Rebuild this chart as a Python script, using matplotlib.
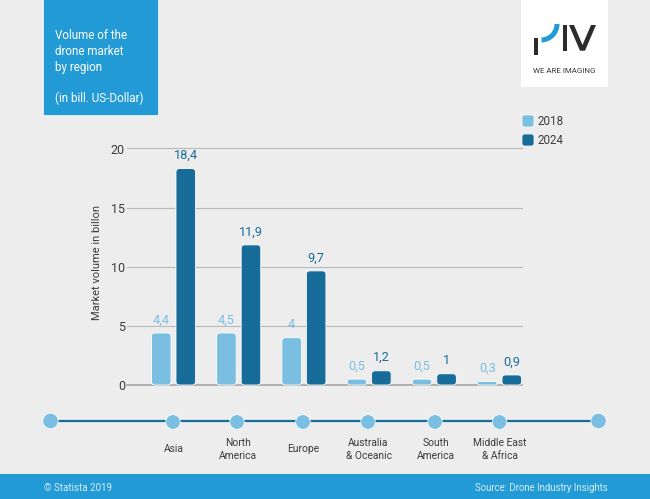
import matplotlib
matplotlib.use('Agg')
import matplotlib.pyplot as plt
from matplotlib.patches import FancyBboxPatch, Rectangle, Circle, Wedge, Polygon

regions = ['Asia', 'North\nAmerica', 'Europe', 'Australia\n& Oceanic', 'South\nAmerica', 'Middle East\n& Africa']
values_2018 = [4.4, 4.4, 4.0, 0.5, 0.5, 0.3]
values_2024 = [18.3, 11.85, 9.65, 1.2, 0.95, 0.85]
labels_2018 = ['4,4', '4,5', '4', '0,5', '0,5', '0,3']
labels_2024 = ['18,4', '11,9', '9,7', '1,2', '1', '0,9']
yticks = [0, 5, 10, 15, 20]
years = ['2018', '2024']

LIGHT = '#7abfe2'
DARK = '#186c99'
BLUE = '#229ad6'
BG = '#ededed'
TXT = '#3c3c3c'
W, H = 650, 499

plt.rcParams['font.family'] = ['Roboto', 'DejaVu Sans']

fig = plt.figure(figsize=(W / 100, H / 100), dpi=100, facecolor=BG)

# overlay in image pixels for the decoration, y runs downwards
bg = fig.add_axes([0, 0, 1, 1], zorder=0)
bg.set_xlim(0, W)
bg.set_ylim(H, 0)
bg.axis('off')

# bar axes, placed so that 0 and 20 land on the reference pixels
left, right, bottom, top = 127, 521.5, 385, 148.5
ax = fig.add_axes([left / W, 1 - bottom / H, (right - left) / W, (bottom - top) / H], zorder=1)
ax.patch.set_alpha(0)
group_px = 65.2
ax.set_xlim((left - 173.5) / group_px, (right - 173.5) / group_px)
ax.set_ylim(0, 20)
y_per_x = (20 / (bottom - top)) * group_px


def round_bar(x, h, w, color):
    # rounded bar in data units, radius given in x units
    rad_px = min(3.5, h * (bottom - top) / 20 / 2)
    rad = rad_px / group_px
    p = FancyBboxPatch((x - w / 2, 0), w, h, boxstyle='round,pad=0,rounding_size=%f' % rad,
                       mutation_aspect=y_per_x, facecolor=color, edgecolor='white',
                       linewidth=0.6, zorder=3, clip_on=False)
    ax.add_patch(p)


bar_w = 0.3
off = 0.188
for i in range(len(regions)):
    round_bar(i - off, values_2018[i], bar_w, LIGHT)
    round_bar(i + off, values_2024[i], bar_w, DARK)
    ax.annotate(labels_2018[i], (i - off, values_2018[i]), xytext=(0, 9.4), textcoords='offset points',
                ha='center', va='center', color=LIGHT, fontsize=9.2)
    ax.annotate(labels_2024[i], (i + off, values_2024[i]), xytext=(0, 9.4), textcoords='offset points',
                ha='center', va='center', color=DARK, fontsize=9.2)

for s in ax.spines.values():
    s.set_visible(False)
ax.set_xticks([])
ax.set_yticks(yticks)
ax.tick_params(axis='y', length=0, pad=1.5, labelsize=9, labelcolor=TXT)
for t in yticks:
    ax.axhline(t, color='#a0a0a0' if t == 0 else '#b9b9b9', linewidth=1.1 if t == 0 else 0.8, zorder=1, clip_on=False)
fig.text(97 / W, 1 - 263 / H, 'Market volume in billon', rotation=90, ha='center', va='center',
         fontsize=8, color=TXT)

# title box
bg.add_patch(Rectangle((43, -1), 115, 116, facecolor=BLUE, edgecolor='white', linewidth=0.5))
for txt, y in [('Volume of the', 35), ('drone market', 51), ('by region', 67), ('(in bill. US-Dollar)', 98)]:
    bg.text(55, y, txt, color='white', fontsize=8.4, va='center', ha='left')

# logo
DARKLOGO = '#2b2b2b'
bg.add_patch(Rectangle((521, -1), 87, 88, facecolor='white', edgecolor='none'))
bg.add_patch(Rectangle((533.5, 38), 4.5, 17, facecolor=DARKLOGO, edgecolor='none'))
bg.add_patch(Wedge((541, 24), 18.5, 0, 88, width=5, facecolor=BLUE, edgecolor='none'))
bg.add_patch(Rectangle((562.5, 25), 4.5, 25.7, facecolor=DARKLOGO, edgecolor='none'))
bg.add_patch(Polygon([(569, 25), (574, 25), (582.5, 45), (591, 25), (596, 25), (585, 50.7), (580, 50.7)],
                     closed=True, facecolor=DARKLOGO, edgecolor='none'))
bg.text(564, 71, 'WE ARE IMAGING', color='#3a3a3a', fontsize=5.7, ha='center', va='center')

# legend
for y, col, yr in [(115, LIGHT, years[0]), (134, DARK, years[1])]:
    bg.add_patch(FancyBboxPatch((522, y), 12, 12, boxstyle='round,pad=0,rounding_size=2.5',
                                facecolor=col, edgecolor='white', linewidth=0.5))
    bg.text(538, y + 6.5, yr, color=TXT, fontsize=8.4, va='center', ha='left')

# timeline with region names
bg.plot([50, 598], [421, 421], color=DARK, linewidth=1.6, zorder=2)
stops = [173, 237, 303, 368, 435, 499.5]
bg.add_patch(Circle((50.5, 421), 7.7, facecolor=LIGHT, edgecolor='white', linewidth=0.5, zorder=3))
bg.add_patch(Circle((598.5, 421), 7.7, facecolor=LIGHT, edgecolor='white', linewidth=0.5, zorder=3))
for x, name in zip(stops, regions):
    bg.add_patch(Circle((x, 422), 7.3, facecolor=LIGHT, edgecolor='white', linewidth=0.5, zorder=3))
    bg.text(x + 0.5, 449.5, name, ha='center', va='center', color=TXT, fontsize=7.4, linespacing=1.35)

# footer band
bg.add_patch(Rectangle((0, 474), W, 26, facecolor=BLUE, edgecolor='none'))
bg.text(44, 488, '© Statista 2019', color='#d7eefa', fontsize=7.0, ha='left', va='center')
bg.text(608, 488, 'Source: Drone Industry Insights', color='#d7eefa', fontsize=6.9, ha='right', va='center')

fig.savefig('out.png', dpi=100, facecolor=BG)
